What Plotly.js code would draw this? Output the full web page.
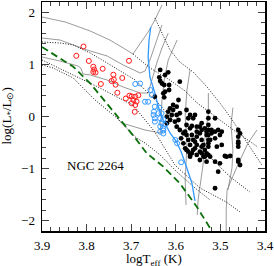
<!DOCTYPE html>
<html><head><meta charset="utf-8">
<script src="https://cdn.plot.ly/plotly-3.0.1.min.js"></script>
<style>html,body{margin:0;padding:0;background:#fff}#g{width:274px;height:266px}</style>
</head><body><div id="g"></div>
<script>
// Observed stars
const redT = [3.807,3.823,3.795,3.785,3.783,3.785,3.780,3.764,3.705,3.740,3.768,3.744,3.739,3.735,3.720,3.731,3.712,3.704,3.699,3.691,3.684,3.695,3.688,3.699,3.691,3.692];
const redL = [1.345,1.166,1.067,0.957,0.903,0.855,0.846,0.917,1.070,0.803,0.625,0.682,0.711,0.611,0.740,0.457,0.346,0.400,0.385,0.381,0.408,0.317,0.288,0.254,0.221,0.090];

const blueT = [3.691,3.680,3.657,3.654,3.669,3.662,3.647,3.637,3.649,3.639,3.632,3.650,3.647,3.635,3.628,3.647,3.632,3.624,3.635,3.628,3.628,3.635,3.628,3.601,3.597,3.588];
const blueL = [0.625,0.634,0.509,0.413,0.284,0.284,0.189,0.173,0.092,0.062,0.062,0.029,-0.034,-0.034,-0.057,-0.100,-0.130,-0.153,-0.192,-0.227,-0.269,-0.292,-0.327,-0.451,-0.515,-0.880];

const blackT = [3.635,3.637,3.635,3.617,3.626,3.615,3.615,3.591,3.628,3.626,3.647,3.594,3.606,3.613,3.617,3.606,3.598,3.609,3.598,3.620,3.613,3.602,3.591,3.576,3.568,3.572,3.561,3.576,3.564,3.553,3.542,3.527,3.527,3.527,3.542,3.531,3.520,3.497,3.460,3.456,3.591,3.579,3.598,
 3.624,3.631,3.624,3.557,3.512,3.620,3.594,
 3.583,3.576,3.572,3.583,3.568,3.579,3.572,3.564,3.553,3.542,3.535,3.546,3.557,3.553,3.546,3.542,3.538,3.535,3.531,3.557,3.568,3.561,3.512,3.501,3.505,3.486,3.460,3.460,3.460,3.460,3.512,
 3.527,3.527,3.527,3.527,3.527,3.531,3.527,3.523,3.512,3.505,3.501,3.512,3.508,3.497,3.490,3.478,3.460,3.456,3.460,
 3.568,3.546,3.535,3.564,3.553,3.520,3.588,3.561,3.523,3.553,3.542,3.576,3.546,3.568,3.538,3.531];
const blackL = [0.894,0.753,0.682,0.849,0.605,0.605,0.509,0.669,0.446,0.369,0.381,0.317,0.221,0.157,0.092,0.125,0.189,0.029,0.029,-0.004,-0.067,-0.100,0.062,0.125,0.029,-0.034,-0.034,-0.163,-0.182,-0.196,-0.130,0.092,-0.034,-0.163,-0.259,-0.292,-0.259,-0.292,-0.259,-0.323,-0.259,-0.292,-0.196,
 0.798,0.634,0.477,0.029,-0.034,-0.130,-0.067,
 -0.323,-0.355,-0.451,-0.515,-0.547,-0.611,-0.676,-0.707,-0.739,-0.707,-0.772,-0.836,-0.484,-0.388,-0.323,-0.451,-0.547,-0.643,-0.355,-0.611,-0.772,-0.643,-0.868,-0.899,-1.060,-0.772,-0.868,-0.388,-0.484,-0.580,-1.379,
 -0.259,-0.355,-0.451,-0.515,-0.580,-0.707,-0.739,-0.772,-0.292,-0.259,-0.355,-0.419,-0.580,-0.547,-0.759,-0.759,-0.515,-0.932,-0.836,
 -0.227,-0.196,-0.227,-0.355,-0.292,-0.323,-0.419,-0.451,-0.451,-0.547,-0.580,-0.643,-0.676,-0.739,-0.772,-0.868];

// Evolutionary tracks (solid grey)
const tracks = [
 {T:[3.631,3.647,3.662,3.680,3.696,3.714,3.748,3.792,3.848,3.900], L:[2.142,1.854,1.624,1.393,1.201,1.297,1.470,1.643,1.816,1.912]},
 {T:[3.631,3.647,3.658,3.669,3.680,3.718,3.754,3.799,3.860,3.900], L:[1.758,1.374,1.086,0.874,0.836,0.990,1.163,1.278,1.470,1.508]},
 {T:[3.617,3.631,3.642,3.653,3.662,3.680,3.718,3.754,3.792,3.808,3.813,3.819,3.860,3.900], L:[1.604,1.316,1.047,0.701,0.452,0.452,0.567,0.701,0.798,0.817,0.932,0.970,1.067,1.143]},
 {T:[3.597,3.609,3.617,3.626,3.631,3.633,3.635,3.669,3.698,3.721,3.730,3.732], L:[1.470,1.239,1.086,0.701,0.317,-0.029,-0.317,-0.259,-0.182,-0.125,-0.048,0.029]},
 {T:[3.568,3.575,3.579,3.575,3.579,3.577], L:[0.894,0.509,0.029,-0.547,-1.220,-1.700]},
 {T:[3.527,3.527,3.535,3.539,3.550,3.552], L:[0.451,0.067,-0.451,-0.932,-1.604,-1.892]},
 {T:[3.472,3.476,3.472,3.474,3.483], L:[0.170,-0.163,-0.643,-0.989,-1.412]},
 {T:[3.418,3.438,3.463,3.485,3.487,3.487], L:[-0.259,-0.509,-0.970,-1.412,-1.796,-2.200]}
];
// Isochrones (dotted black)
const isochrones = [
 {T:[3.647,3.629,3.613,3.591,3.561,3.530,3.501,3.478,3.452,3.429,3.407], L:[1.893,1.566,1.278,1.047,0.855,0.567,0.260,-0.009,-0.355,-0.643,-0.932]},
 {T:[3.696,3.658,3.617,3.579,3.552,3.523,3.501,3.474,3.445,3.416], L:[1.201,0.932,0.721,0.490,0.260,0.067,-0.067,-0.240,-0.413,-0.586]},
 {T:[3.900,3.860,3.830,3.792,3.754,3.718,3.691,3.640,3.591,3.535,3.478,3.434], L:[1.432,1.412,1.374,1.220,1.028,0.836,0.701,0.260,-0.221,-0.682,-1.162,-1.450]},
 {T:[3.900,3.844,3.808,3.770,3.732,3.696,3.647,3.602,3.546,3.487,3.456], L:[1.086,0.855,0.701,0.548,0.375,0.221,-0.298,-0.932,-1.373,-1.642,-1.834]},
 {T:[3.900,3.875,3.830,3.781,3.732,3.691,3.669,3.635,3.595,3.557,3.523], L:[0.990,0.932,0.740,0.317,-0.029,-0.394,-0.509,-0.739,-1.085,-1.373,-1.604]}
];
const greenT = [3.900,3.869,3.830,3.792,3.755,3.718,3.691,3.665,3.628,3.591,3.553,3.519];
const greenL = [1.335,1.163,0.957,0.638,0.254,-0.130,-0.413,-0.707,-0.964,-1.283,-1.733,-2.200];
const blueLineT = [3.656,3.660,3.662,3.658,3.647,3.639,3.628,3.613,3.598,3.587,3.576,3.564,3.557];
const blueLineL = [1.720,1.470,1.143,0.759,0.452,0.183,-0.067,-0.317,-0.490,-0.701,-0.970,-1.277,-1.623];

const xTicks = [3.9,3.8,3.7,3.6,3.5,3.4];
const yTicks = [-2,-1,0,1,2];
const label = 'NGC 2264';
const xTitle = 'logT<sub>eff</sub> (K)';
const yTitle = 'log(L<sub>*</sub>/L<sub>\u2299</sub>)';

const traces = [];
tracks.forEach(t => traces.push({x:t.T, y:t.L, mode:'lines', line:{color:'#6e6e6e', width:0.7}, hoverinfo:'skip'}));
isochrones.forEach(t => traces.push({x:t.T, y:t.L, mode:'lines', line:{color:'#000', width:0.9, dash:'1px,1.6px'}, hoverinfo:'skip'}));
traces.push({x:greenT, y:greenL, mode:'lines', line:{color:'#0b700b', width:1.8, dash:'7px,4px'}});
traces.push({x:blueLineT, y:blueLineL, mode:'lines', line:{color:'#3399ff', width:1.3}});
traces.push({x:blackT, y:blackL, mode:'markers', marker:{color:'#000', size:4.8, symbol:'circle'}});
traces.push({x:blueT, y:blueL, mode:'markers', marker:{color:'#3399ff', size:5, symbol:'circle-open', line:{width:1}}});
traces.push({x:redT, y:redL, mode:'markers', marker:{color:'#ff1a1a', size:5, symbol:'circle-open', line:{width:1}}});

const fnt = {family:'Liberation Serif, Times New Roman, serif', size:13, color:'#000'};
const layout = {
 width:274, height:266, margin:{l:42, r:9, t:2, b:35},
 paper_bgcolor:'#fff', plot_bgcolor:'#fff', showlegend:false,
 xaxis:{range:[3.9,3.4], tickvals:xTicks, ticktext:xTicks.map(v=>v.toFixed(1)), ticks:'inside', ticklen:7, tickwidth:1, mirror:'allticks',
   showline:true, linecolor:'#000', linewidth:1.5, showgrid:false, zeroline:false, tickfont:fnt, ticklabelstandoff:2,
   minor:{dtick:0.02, ticks:'inside', ticklen:4, tickwidth:1, showgrid:false}},
 yaxis:{range:[-2.2,2.2], tickvals:yTicks, ticktext:yTicks.map(v=>v<0?'\u2212'+Math.abs(v):String(v)), ticks:'inside', ticklen:7, tickwidth:1, mirror:'allticks',
   showline:true, linecolor:'#000', linewidth:1.5, showgrid:false, zeroline:false, tickfont:fnt, ticklabelstandoff:3,
   minor:{dtick:0.2, ticks:'inside', ticklen:4, tickwidth:1, showgrid:false}},
 annotations:[
   {x:3.781, y:-0.932, xref:'x', yref:'y', text:label, showarrow:false, font:fnt},
   {x:0.5, y:0, xref:'paper', yref:'paper', yshift:-28, yanchor:'middle', text:xTitle, showarrow:false, font:fnt},
   {x:0, y:0.5, xref:'paper', yref:'paper', xshift:-35, xanchor:'center', text:yTitle, textangle:-90, showarrow:false, font:fnt}
 ]
};
Plotly.newPlot('g', traces, layout, {staticPlot:true, displayModeBar:false});
</script></body></html>
